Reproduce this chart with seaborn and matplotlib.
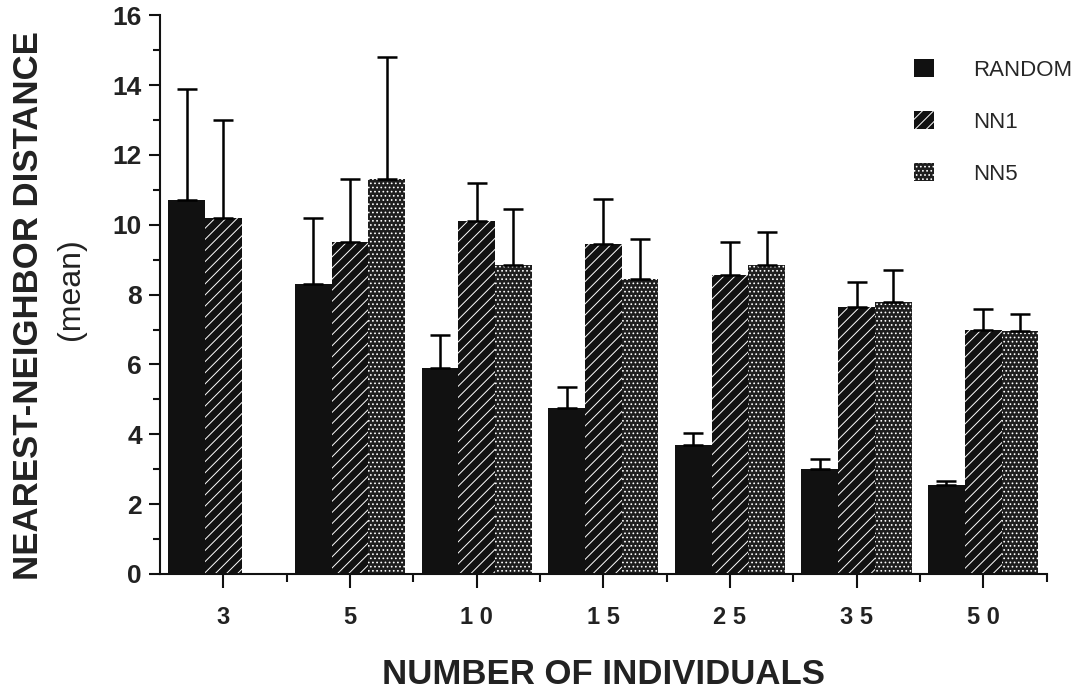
import numpy as np
import pandas as pd
import matplotlib
matplotlib.use("Agg")
import matplotlib.pyplot as plt
import seaborn as sns
from matplotlib.patches import Patch

# datos
n_individuals = ["3", "5", "10", "15", "25", "35", "50"]
tick_labels = ["3", "5", "1 0", "1 5", "2 5", "3 5", "5 0"]
methods = ["RANDOM", "NN1", "NN5"]

random_mean = [10.7, 8.3, 5.9, 4.75, 3.7, 3.0, 2.55]
random_se = [3.2, 1.9, 0.95, 0.6, 0.33, 0.3, 0.12]
nn1_mean = [10.2, 9.5, 10.1, 9.45, 8.55, 7.65, 7.0]
nn1_se = [2.8, 1.8, 1.1, 1.3, 0.95, 0.7, 0.6]
nn5_mean = [np.nan, 11.3, 8.85, 8.45, 8.85, 7.8, 6.95]
nn5_se = [np.nan, 3.5, 1.6, 1.15, 0.95, 0.9, 0.5]

means = {"RANDOM": random_mean, "NN1": nn1_mean, "NN5": nn5_mean}
errors = {"RANDOM": random_se, "NN1": nn1_se, "NN5": nn5_se}

rows = []
for m in methods:
    for n, v in zip(n_individuals, means[m]):
        rows.append({"n": n, "method": m, "dist": v})
df = pd.DataFrame(rows)

sns.set_style("ticks")
plt.rcParams["font.family"] = ["Liberation Sans", "DejaVu Sans"]
plt.rcParams["hatch.linewidth"] = 0.7

face = {"RANDOM": "#111111", "NN1": "#111111", "NN5": "#1e1e1e"}
hatch = {"RANDOM": None, "NN1": "///", "NN5": "...."}

fig = plt.figure(figsize=(10.89, 6.94), dpi=100)
ax = fig.add_axes([0.147, 0.173, 0.814, 0.805])

sns.barplot(data=df, x="n", y="dist", hue="method", order=n_individuals,
            hue_order=methods, palette=[face[m] for m in methods],
            saturation=1, width=0.87, errorbar=None, linewidth=0, ax=ax)

for m, cont in zip(methods, ax.containers):
    for bar in cont:
        bar.set_facecolor(face[m])
        if hatch[m]:
            bar.set_hatch(hatch[m])
            bar.set_edgecolor("white")
            bar.set_linewidth(0)
        cx = bar.get_x() + bar.get_width() / 2
        h = bar.get_height()
        if np.isnan(h):
            continue
        err = errors[m][int(round(cx))]
        ax.errorbar(cx, h, yerr=[[0], [err]], fmt="none", ecolor="black",
                    elinewidth=1.8, capsize=7, capthick=1.8, zorder=3)

ax.set_xlim(-0.5, 6.5)
ax.set_ylim(0, 16)
ax.set_yticks(range(0, 17, 2))
ax.set_yticks(range(1, 16, 2), minor=True)
ax.set_xticks(range(len(n_individuals)))
ax.set_xticks(np.arange(0.5, 6.6, 1), minor=True)
ax.set_xticklabels(tick_labels)

for s in ["top", "right"]:
    ax.spines[s].set_visible(False)
for s in ["left", "bottom"]:
    ax.spines[s].set_linewidth(1.5)
    ax.spines[s].set_color("#111111")

ax.tick_params(axis="both", which="major", length=8, width=1.5, color="#111111")
ax.tick_params(axis="both", which="minor", length=5, width=1.5, color="#111111")
ax.tick_params(axis="x", which="major", length=10, pad=13)
ax.tick_params(axis="x", which="minor", length=6)
ax.tick_params(axis="y", pad=5)
for lab in ax.get_yticklabels():
    lab.set_fontsize(19)
    lab.set_fontweight("bold")
    lab.set_color("#222222")
for lab in ax.get_xticklabels():
    lab.set_fontsize(17)
    lab.set_fontweight("bold")
    lab.set_color("#222222")

ax.set_xlabel("NUMBER OF INDIVIDUALS", fontsize=25, fontweight="bold",
              color="#222222", labelpad=21)
ax.set_ylabel("NEAREST-NEIGHBOR DISTANCE", fontsize=25, fontweight="bold",
              color="#222222")
ax.yaxis.set_label_coords(-0.13, 0.48)
ax.text(-0.101, 0.51, "(mean)", transform=ax.transAxes, rotation=90,
        ha="center", va="center", fontsize=23, color="#222222")

handles = []
for m in methods:
    if hatch[m]:
        handles.append(Patch(facecolor=face[m], edgecolor="white", hatch=hatch[m], linewidth=0))
    else:
        handles.append(Patch(facecolor=face[m], linewidth=0))
ax.legend(handles, methods, loc="upper left", bbox_to_anchor=(0.85, 0.922),
          frameon=False, fontsize=16, handlelength=0.9, handleheight=0.9,
          handletextpad=1.8, labelspacing=1.35, borderpad=0, borderaxespad=0)

fig.savefig("out.png", dpi=100)
